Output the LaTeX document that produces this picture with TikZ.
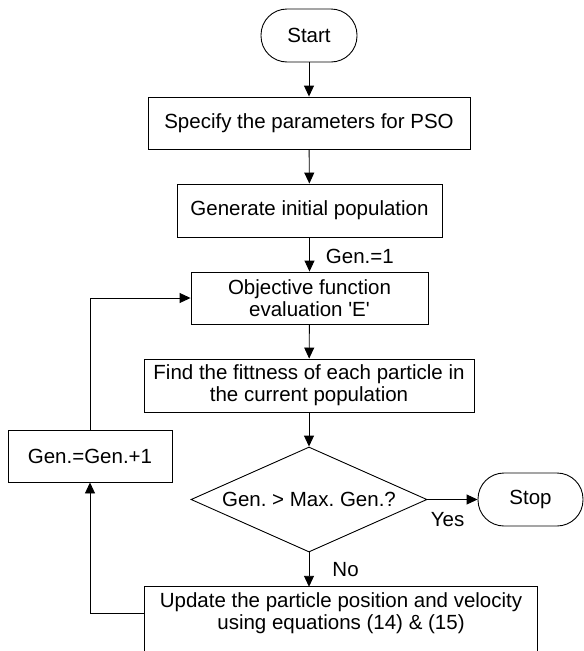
\documentclass[tikz,border=0pt]{standalone}
\usepackage{fontspec}
\setmainfont{Liberation Sans}
\usetikzlibrary{arrows.meta,shapes.geometric}
\frenchspacing
\begin{document}
\begin{tikzpicture}[x=1pt,y=-1pt,
  every node/.style={font=\fontsize{20.5}{22}\selectfont, inner sep=0pt},
  box/.style={draw, line width=0.9pt, align=center},
  term/.style={draw, line width=0.9pt, rounded corners=26pt, minimum height=53pt},
  arr/.style={line width=0.9pt, -{Triangle[length=11pt,width=10pt]}},
  ln/.style={line width=0.9pt}]
\useasboundingbox (0,0) rectangle (584,651);
\node[term, minimum width=96pt] (start) at (309,35.5) {Start};
\node[box, minimum width=322pt, minimum height=52pt] (spec) at (309,123) {Specify the parameters for PSO};
\node[box, minimum width=265pt, minimum height=53pt] (gen) at (309.5,210.5) {Generate initial population};
\node[box, minimum width=237pt, minimum height=52pt] (obj) at (309.5,298) {Objective function\\evaluation \textquotesingle E\textquotesingle};
\node[box, minimum width=330pt, minimum height=53pt] (find) at (309,385.5) {Find the fittness of each particle in\\the current population};
\node[diamond, draw, line width=0.9pt, minimum width=236pt, minimum height=105pt] (dec) at (309,499.5) {\makebox[0pt]{Gen. > Max. Gen.?}};
\node[term, minimum width=105pt] (stop) at (530.5,499.5) {Stop};
\node[align=center, minimum width=392pt, minimum height=52pt] (upd) at (341,613) {Update the particle position and velocity\\using equations (14) \& (15)};
\draw[ln] ([yshift=-30pt]upd.south west) -- (upd.north west) -- (upd.north east) -- ([yshift=-30pt]upd.south east);
\node[box, minimum width=164pt, minimum height=52pt] (incr) at (90,456) {Gen.=Gen.+1};

\draw[arr] (start) -- (spec);
\draw[arr] (spec) -- (gen);
\draw[arr] (gen) -- node[right, xshift=16pt, yshift=-2pt] {Gen.=1} (obj);
\draw[arr] (obj) -- (find);
\draw[arr] (find) -- (dec);
\draw[arr] (dec.east) -- node[pos=0, anchor=north west, xshift=3pt, yshift=-12pt] {Yes} (stop.west);
\draw[arr] (dec.south) -- node[right, xshift=23pt] {No} (dec.south |- upd.north);
\draw[arr] (upd.west) -| (incr.south);
\draw[arr] (incr.north) |- (obj.west);
\end{tikzpicture}
\end{document}
